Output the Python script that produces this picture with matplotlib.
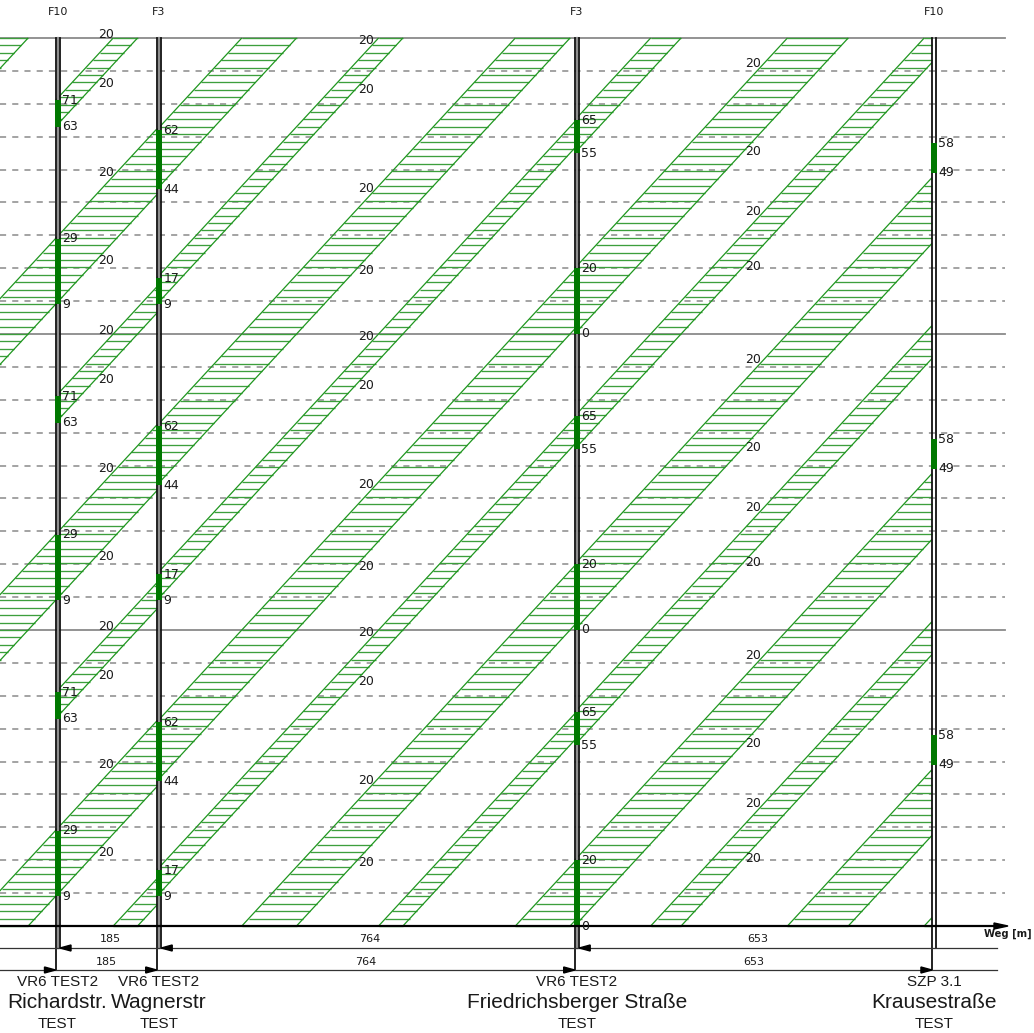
import numpy as np
import matplotlib
matplotlib.use("Agg")
import matplotlib.pyplot as plt
from matplotlib.collections import LineCollection
from matplotlib.patches import Polygon, Rectangle

# ---------------- data ----------------
names = ["Richardstr.", "Wagnerstr", "Friedrichsberger Straße", "Krausestraße"]
controllers = ["VR6 TEST2", "VR6 TEST2", "VR6 TEST2", "SZP 3.1"]
subtitles = ["TEST", "TEST", "TEST", "TEST"]
programs = ["F10", "F3", "F3", "F10"]
distances = [185, 764, 653]
green_windows = [[(9, 29), (63, 71)],
                 [(9, 17), (44, 62)],
                 [(0, 20), (55, 65)],
                 [(49, 58)]]
incoming_window = (9, 29)      # band arriving at the first signal from the left
cycle = 90
n_cycles = 3
speed_kmh = 20
grid_step = 10
axis_label = "Weg [m]"

# ---------------- layout (pixel mapping) ----------------
W, H = 1034, 1033
X0PX, PXM = 55.5, 0.5471      # x pixel of first signal, pixels per metre
T0PX, PXS = 926.0, 3.289      # y pixel of t=0, pixels per second

def mx(px):
    return (px - X0PX) / PXM

def ty(py):
    return (T0PX - py) / PXS

def dm(px):
    return px / PXM

def dt(px):
    return px / PXS

fig = plt.figure(figsize=(W / 100, H / 100), dpi=100)
ax = fig.add_axes([0, 0, 1, 1])
ax.set_xlim(mx(0), mx(W))
ax.set_ylim(ty(H), ty(0))
ax.axis("off")

positions = np.concatenate([[0], np.cumsum(distances)]).astype(float)
v = speed_kmh / 3.6
T = cycle * n_cycles

EDGE = "#1f961f"
HATCH = "#3c9f3c"
BAR = "#007800"
TXT = "#1a1a1a"
GRID = "#8a8a8a"
HSTEP = 2.25

edge_segs, hatch_segs = [], []
labels = []


def add_band(xa, xb, ts, te, label=True):
    travel = (xb - xa) / v
    for t_s in (ts, te):
        lo, hi = max(t_s, 0), min(t_s + travel, T)
        if lo < hi:
            edge_segs.append([(xa + (lo - t_s) * v, lo), (xa + (hi - t_s) * v, hi)])
    k0 = int(np.ceil(max(ts, 0) / HSTEP))
    k1 = int(np.floor(min(te + travel, T) / HSTEP))
    for k in range(k0, k1 + 1):
        tk = k * HSTEP
        xl = max(xa, xa + (tk - te) * v)
        xr = min(xb, xa + (tk - ts) * v)
        if xr > xl:
            hatch_segs.append([(xl, tk), (xr, tk)])
    if label:
        xm = (xa + xb) / 2
        tl, tu = ts + travel / 2, te + travel / 2
        if 0 <= tl <= T:
            labels.append((xm, tl - dt(11)))
        if 0 <= tu <= T:
            labels.append((xm, tu + dt(11)))


for c in range(-4, n_cycles + 1):
    # incoming band from the left
    xa = positions[0] - 400
    off = 400 / v
    add_band(xa, positions[0], incoming_window[0] - off + c * cycle,
             incoming_window[1] - off + c * cycle, label=False)
    for i in range(len(distances)):
        for (ws, we) in green_windows[i]:
            add_band(positions[i], positions[i + 1], ws + c * cycle, we + c * cycle)

# grid
xg0, xg1 = mx(0), mx(1005)
for tg in np.arange(grid_step, T, grid_step):
    if tg % cycle == 0:
        continue
    ax.plot([xg0, xg1], [tg, tg], color=GRID, lw=1.1, dashes=(4, 4), zorder=1)
for tg in range(cycle, T + 1, cycle):
    ax.plot([xg0, xg1], [tg, tg], color=GRID, lw=1.3, zorder=1.2)

ax.add_collection(LineCollection(hatch_segs, colors=HATCH, linewidths=0.95, zorder=2))
ax.add_collection(LineCollection(edge_segs, colors=EDGE, linewidths=0.9, zorder=3))

for (xl, yl) in labels:
    ax.text(xl, yl, str(speed_kmh), ha="center", va="center", fontsize=9,
            color=TXT, zorder=6, family="DejaVu Sans")

# signal columns
for i, x0 in enumerate(positions):
    xr = x0 + dm(4.5)
    if i < len(positions) - 1:
        ax.plot([x0 + dm(2.25), x0 + dm(2.25)], [T, ty(948)], color="#8f8f8f", lw=1.6, zorder=3.5)
    ax.plot([x0, x0], [T, ty(970)], color="#111111", lw=1.3, zorder=4)
    ax.plot([xr, xr], [T, ty(948)], color="#111111", lw=1.3, zorder=4)
    for c in range(0, n_cycles):
        for (ws, we) in green_windows[i]:
            s, e = ws + c * cycle, we + c * cycle
            if s >= T:
                continue
            ax.add_patch(Rectangle((x0 - dm(0.9), s), dm(6.2), e - s, color=BAR, lw=0, zorder=5))
            ax.text(x0 + dm(6.5), e, str(we), ha="left", va="center", fontsize=9,
                    color=TXT, zorder=6, family="DejaVu Sans")
            ax.text(x0 + dm(6.5), s, str(ws), ha="left", va="center", fontsize=9,
                    color=TXT, zorder=6, family="DejaVu Sans")
    ax.text(x0 + dm(2.25), ty(12), programs[i], ha="center", va="center", fontsize=8,
            color=TXT, family="DejaVu Sans")
    ax.text(x0 + dm(2), ty(982), controllers[i], ha="center", va="center", fontsize=11,
            color=TXT, family="Liberation Sans")
    ax.text(x0 + dm(2), ty(1003), names[i], ha="center", va="center", fontsize=15,
            color=TXT, family="Liberation Sans")
    ax.text(x0 + dm(2), ty(1024), subtitles[i], ha="center", va="center", fontsize=11,
            color=TXT, family="Liberation Sans")

# time axis with arrow
ax.plot([mx(0), mx(997)], [0, 0], color="black", lw=1.6, zorder=5)
ax.add_patch(Polygon([(mx(1008), 0), (mx(994), dt(3)), (mx(994), -dt(3))],
                     closed=True, color="black", zorder=5))
ax.text(mx(984), ty(934), axis_label, ha="left", va="center", fontsize=7.2,
        fontweight="bold", color=TXT, family="DejaVu Sans")

# dimension rows
y1, y2 = ty(948), ty(970)
ax.plot([mx(0), mx(997)], [y1, y1], color="#333333", lw=0.9, zorder=4)
ax.plot([mx(0), mx(997)], [y2, y2], color="#333333", lw=0.9, zorder=4)
for i, d in enumerate(distances):
    xa, xb = positions[i], positions[i + 1]
    ax.text((xa + xb) / 2 + dm(4.5), ty(939), str(d), ha="center", va="center",
            fontsize=8, color=TXT, family="DejaVu Sans")
    ax.text((xa + xb) / 2, ty(962), str(d), ha="center", va="center",
            fontsize=8, color=TXT, family="DejaVu Sans")
    xr = xa + dm(4.5)
    ax.add_patch(Polygon([(xr, y1), (xr + dm(11), y1 + dt(3)), (xr + dm(11), y1 - dt(3))],
                         closed=True, color="black", zorder=5))
for x0 in positions:
    ax.add_patch(Polygon([(x0, y2), (x0 - dm(11), y2 + dt(3)), (x0 - dm(11), y2 - dt(3))],
                         closed=True, color="black", zorder=5))

fig.savefig("out.png", dpi=100, facecolor="white")
